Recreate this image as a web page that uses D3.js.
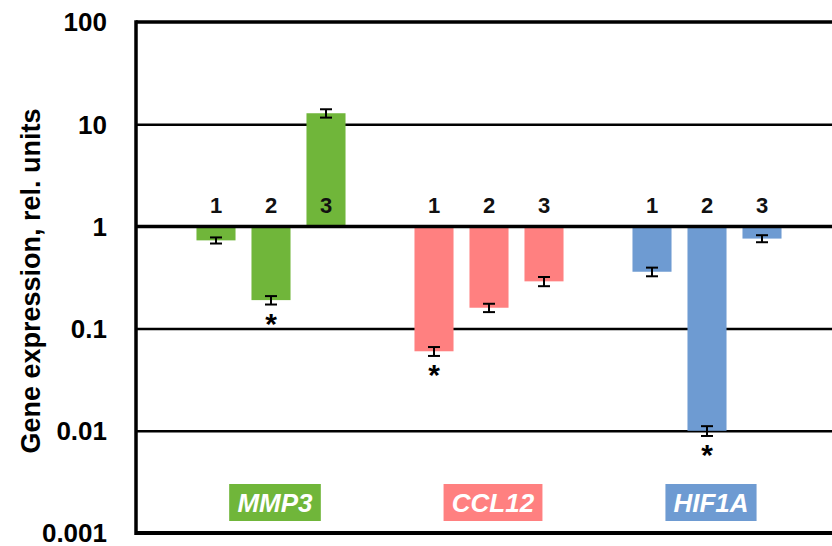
<!DOCTYPE html>
<html>
<head>
<meta charset="utf-8">
<script src="https://cdn.jsdelivr.net/npm/d3@7"></script>
<style>
  html, body { margin: 0; padding: 0; background: #fff; }
  svg { display: block; font-family: Arial, "Liberation Sans", sans-serif; }
</style>
</head>
<body>
<svg id="chart" width="832" height="546"></svg>
<script>
// Relative expression of three genes under conditions 1-3 (log scale)
const genes = ["MMP3", "CCL12", "HIF1A"];
const conditions = ["1", "2", "3"];
const geneColors = ["#70b63a", "#ff8080", "#6e9bd2"];

const mmp3Values  = [0.73, 0.19, 12.8];
const ccl12Values = [0.06, 0.16, 0.29];
const hif1aValues = [0.36, 0.010, 0.76];

const mmp3Errors  = [0.05, 0.018, 1.2];
const ccl12Errors = [0.006, 0.015, 0.03];
const hif1aErrors = [0.035, 0.0011, 0.06];

// significance markers (*) per condition
const mmp3Sig  = [false, true, false];
const ccl12Sig = [true, false, false];
const hif1aSig = [false, true, false];

const tickValues = [100, 10, 1, 0.1, 0.01, 0.001];
const tickLabels = ["100", "10", "1", "0.1", "0.01", "0.001"];
const yTitle = "Gene expression, rel. units";

const seriesValues = [mmp3Values, ccl12Values, hif1aValues];
const seriesErrors = [mmp3Errors, ccl12Errors, hif1aErrors];
const seriesSig = [mmp3Sig, ccl12Sig, hif1aSig];

const rows = [];
genes.forEach((g, gi) => {
  conditions.forEach((c, ci) => {
    rows.push({
      gene: g, cond: c, gi,
      value: seriesValues[gi][ci],
      err: seriesErrors[gi][ci],
      sig: seriesSig[gi][ci]
    });
  });
});

const svg = d3.select("#chart");
const plotLeft = 136, plotRight = 832, plotTop = 22, plotBottom = 533;

const y = d3.scaleLog().domain([0.001, 100]).range([plotBottom, plotTop]);
const x0 = d3.scaleBand().domain(genes).range([162, 816]);
const x1 = d3.scaleBand().domain(conditions)
  .range([26.5, 191.5]).paddingInner(0.29).paddingOuter(0.145);

// horizontal gridlines
const grid = svg.append("g").attr("transform", `translate(${plotLeft},0)`)
  .call(d3.axisRight(y).tickValues([10, 0.1, 0.01]).tickSize(plotRight - plotLeft).tickFormat(""));
grid.select(".domain").remove();
grid.selectAll("line").attr("stroke", "#000").attr("stroke-width", 2.5);

// bars from the baseline of 1
const bars = svg.append("g");
bars.selectAll("rect").data(rows).join("rect")
  .attr("x", d => x0(d.gene) + x1(d.cond))
  .attr("width", x1.bandwidth())
  .attr("y", d => Math.min(y(d.value), y(1)))
  .attr("height", d => Math.abs(y(d.value) - y(1)))
  .attr("fill", d => geneColors[d.gi]);

// error bars
const eb = svg.append("g").attr("stroke", "#000").attr("stroke-width", 2);
const cx = d => x0(d.gene) + x1(d.cond) + x1.bandwidth() / 2;
eb.selectAll(".v").data(rows).join("line").attr("class", "v")
  .attr("x1", cx).attr("x2", cx)
  .attr("y1", d => y(d.value + d.err)).attr("y2", d => y(d.value - d.err));
eb.selectAll(".t").data(rows).join("line").attr("class", "t")
  .attr("x1", d => cx(d) - 6).attr("x2", d => cx(d) + 6)
  .attr("y1", d => y(d.value + d.err)).attr("y2", d => y(d.value + d.err));
eb.selectAll(".b").data(rows).join("line").attr("class", "b")
  .attr("x1", d => cx(d) - 6).attr("x2", d => cx(d) + 6)
  .attr("y1", d => y(d.value - d.err)).attr("y2", d => y(d.value - d.err));

// significance stars
svg.append("g").selectAll("text").data(rows.filter(d => d.sig)).join("text")
  .attr("x", cx)
  .attr("y", d => y(d.value - d.err) + 29)
  .attr("text-anchor", "middle")
  .attr("font-size", 30).attr("font-weight", "bold")
  .text("*");

// condition numbers above the baseline
svg.append("g").selectAll("text").data(rows).join("text")
  .attr("x", cx)
  .attr("y", y(1) - 13)
  .attr("text-anchor", "middle")
  .attr("font-size", 22).attr("font-weight", "bold")
  .attr("fill", "#111")
  .text(d => d.cond);

// frame lines: top, baseline 1, bottom
[[100, 3.5], [1, 3.5], [0.001, 4]].forEach(([v, w]) => {
  svg.append("line")
    .attr("x1", plotLeft).attr("x2", plotRight)
    .attr("y1", y(v)).attr("y2", y(v))
    .attr("stroke", "#000").attr("stroke-width", w);
});

// y axis with tick labels
const yAxis = svg.append("g").attr("transform", `translate(${plotLeft},0)`)
  .call(d3.axisLeft(y).tickValues(tickValues)
    .tickFormat((d, i) => tickLabels[i]).tickSize(0).tickPadding(29));
yAxis.select(".domain").attr("stroke", "#000").attr("stroke-width", 3.5)
  .attr("d", `M0,${plotTop - 1.75}V${plotBottom + 2}`);
yAxis.attr("font-size", 26).attr("font-weight", "bold")
  .attr("font-family", "Arial, 'Liberation Sans', sans-serif");
yAxis.selectAll("text").attr("fill", "#000").attr("dy", "0.34em");

// y axis title
svg.append("text")
  .attr("transform", `translate(40,281) rotate(-90)`)
  .attr("text-anchor", "middle")
  .attr("font-size", 27).attr("font-weight", "bold")
  .text(yTitle);

// gene name badges
const badges = svg.append("g");
genes.forEach((g, gi) => {
  const bx = x0(g) + x0.bandwidth() / 2 + 4;
  const grp = badges.append("g");
  const t = grp.append("text")
    .attr("x", bx).attr("y", 512)
    .attr("text-anchor", "middle")
    .attr("font-size", 26).attr("font-weight", "bold").attr("font-style", "italic")
    .attr("fill", "#fff")
    .text(g);
  const bb = t.node().getBBox();
  grp.insert("rect", "text")
    .attr("x", bx - bb.width / 2 - 8).attr("width", bb.width + 16)
    .attr("y", 484).attr("height", 37)
    .attr("fill", geneColors[gi]);
});
</script>
</body>
</html>
